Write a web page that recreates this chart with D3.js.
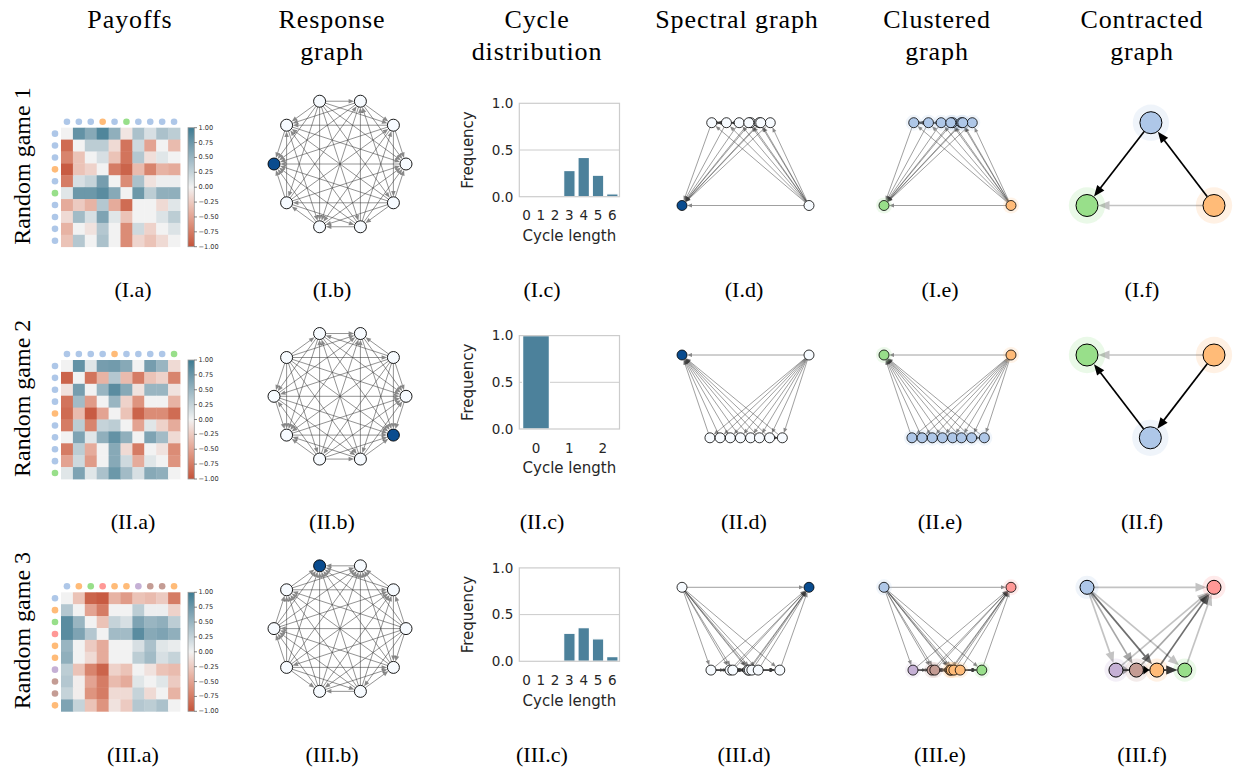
<!DOCTYPE html>
<html><head><meta charset="utf-8">
<script src="https://cdn.jsdelivr.net/npm/d3@7"></script>
<style>body{margin:0;background:#fff}svg{display:block}</style>
</head><body>
<script>
// ---------------- DATA ----------------
const colTitles = [["Payoffs"], ["Response", "graph"], ["Cycle", "distribution"], ["Spectral graph"], ["Clustered", "graph"], ["Contracted", "graph"]];
const rowLabels = ["Random game 1", "Random game 2", "Random game 3"];
const romanNums = ["I", "II", "III"];
const panelLetters = ["a", "b", "c", "d", "e", "f"];

const payoffs1 = [
  [0, 0.8, 0.6, 0.9, 0.55, -0.08, 0.4, 0.15, 0.4, 0.3],
  [-0.85, 0, 0.3, 0.3, -0.15, -0.8, 0.2, -0.5, 0, -0.35],
  [-0.7, -0.3, 0, 0.15, -0.3, -0.8, 0.35, -0.12, 0.1, 0],
  [-0.95, -0.3, -0.2, 0, -0.75, -0.9, -0.35, -0.7, -0.4, -0.45],
  [-0.75, 0.15, 0.25, 0.7, 0, -0.65, 0.4, -0.1, 0.03, 0.03],
  [0.1, 0.75, 0.75, 0.85, 0.6, 0, 0.75, 0.3, 0.55, 0.55],
  [-0.45, -0.25, -0.4, 0.35, -0.45, -0.85, 0, 0, -0.15, 0.1],
  [-0.15, 0.45, 0.15, 0.65, 0.1, -0.3, 0, 0, 0.12, 0.3],
  [-0.4, 0, -0.1, 0.35, 0, -0.65, 0.2, -0.2, 0, 0.12],
  [-0.3, 0.35, 0, 0.4, 0, -0.65, -0.18, -0.3, -0.15, 0]
];
const payoffs2 = [
  [0, 0.8, 0.1, 0.7, 0.72, 0.6, 0, 0.7, 0.5, -0.15],
  [-0.9, 0, -0.8, -0.4, 0.35, -0.35, -0.75, -0.3, -0.2, -0.7],
  [-0.1, 0.7, 0, 0.5, 0.85, 0.6, -0.1, 0.5, 0.5, -0.1],
  [-0.8, 0.45, -0.55, 0, 0.5, -0.2, -0.6, 0, 0, -0.4],
  [-0.85, -0.35, -0.95, -0.5, 0, -0.3, -0.9, -0.65, -0.65, -0.85],
  [-0.75, 0.3, -0.7, 0.25, 0.3, 0, -0.5, 0.1, -0.2, -0.45],
  [0, 0.65, 0.1, 0.55, 0.8, 0.55, 0, 0.65, 0.45, -0.15],
  [-0.75, 0.3, -0.45, 0, 0.6, -0.15, -0.75, 0, -0.1, -0.65],
  [-0.5, 0.2, -0.55, 0, 0.6, 0.2, -0.45, 0.1, 0, -0.6],
  [0.1, 0.65, 0.1, 0.4, 0.75, 0.45, 0.15, 0.6, 0.55, 0]
];
const payoffs3 = [
  [0, -0.3, -0.9, -0.95, -0.4, -0.55, -0.3, -0.35, -0.25, -0.75],
  [0.35, 0, -0.5, -0.75, 0, 0, 0.3, 0.03, 0.03, -0.2],
  [0.85, 0.5, 0, -0.3, 0.25, 0.15, 0.65, 0.5, 0.55, 0.3],
  [0.85, 0.65, 0.35, 0, 0.45, 0.45, 0.85, 0.6, 0.65, 0.55],
  [0.5, 0, -0.25, -0.45, 0, 0, 0.15, 0.4, 0.1, 0.05],
  [0.55, 0, -0.15, -0.45, 0, 0, 0.3, 0.45, 0.15, 0.25],
  [0.3, -0.3, -0.7, -0.9, -0.2, -0.3, 0, -0.1, -0.3, -0.35],
  [0.35, -0.03, -0.5, -0.75, -0.35, -0.45, 0.1, 0, 0.1, -0.25],
  [0.25, -0.03, -0.6, -0.75, -0.15, -0.15, 0.25, -0.15, 0, -0.4],
  [0.65, 0.25, -0.3, -0.6, -0.1, -0.25, 0.35, 0.3, 0.4, 0]
];

const clusters1 = ["blue", "blue", "blue", "orange", "blue", "green", "blue", "blue", "blue", "blue"];
const clusters2 = ["blue", "blue", "blue", "blue", "orange", "blue", "blue", "blue", "blue", "green"];
const clusters3 = ["blue", "orange", "green", "red", "orange", "orange", "purple", "brown", "brown", "orange"];
const clusterColors = {blue: "#aec7e8", orange: "#ffbb78", green: "#98df8a", red: "#ff9896", purple: "#c5b0d5", brown: "#c49c94"};

const cycleLengths1 = [0, 1, 2, 3, 4, 5, 6];
const cycleFreq1 = [0, 0, 0, 0.28, 0.42, 0.23, 0.03];
const cycleLengths2 = [0, 1, 2];
const cycleFreq2 = [1, 0, 0];
const cycleLengths3 = [0, 1, 2, 3, 4, 5, 6];
const cycleFreq3 = [0, 0, 0, 0.30, 0.36, 0.24, 0.05];
const freqTicks = [0, 0.5, 1];
const colorbarTicks = [1, 0.75, 0.5, 0.25, 0, -0.25, -0.5, -0.75, -1];

// spectral embedding coordinates (normalised)
const spectralX1 = [0.695, 0.234, 0.45, 1.0, 0.35, 0.0, 0.54, 0.61, 0.526, 0.62];
const spectralY1 = [0, 0, 0, 1, 0, 1, 0, 0, 0, 0];
const spectralX2 = [0.46, 0.22, 0.54, 0.38, 1.0, 0.30, 0.61, 0.69, 0.79, 0.0];
const spectralY2 = [1, 1, 1, 1, 0, 1, 1, 1, 1, 0];
const spectralX3 = [0.0, 0.52, 0.77, 1.0, 0.53, 0.55, 0.228, 0.378, 0.40, 0.60];
const spectralY3 = [0, 1, 1, 0, 1, 1, 1, 1, 1, 1];

// ---------------- SETUP ----------------
const games = [
  {M: payoffs1, cl: clusters1, cats: cycleLengths1, freq: cycleFreq1, sx: spectralX1, sy: spectralY1},
  {M: payoffs2, cl: clusters2, cats: cycleLengths2, freq: cycleFreq2, sx: spectralX2, sy: spectralY2},
  {M: payoffs3, cl: clusters3, cats: cycleLengths3, freq: cycleFreq3, sx: spectralX3, sy: spectralY3}
];
const W = 1233, H = 770;
const svg = d3.select("body").append("svg").attr("width", W).attr("height", H)
  .style("font-family", "DejaVu Sans");
const SERIF = "Liberation Serif";
const rowOff = [0, 232.3, 464.6];
const DARK = "#0a4c8f", LIGHT = "#f7fbff";

const heatColor = d3.scaleLinear().domain([-1, 0, 1])
  .range(["#c4533a", "#f2f2f2", "#3c7b92"]).interpolate(d3.interpolateLab);

function responseEdges(M) {
  const n = M.length, E = [];
  for (let i = 0; i < n; i++) for (let j = i + 1; j < n; j++) {
    if (M[j][i] > M[i][j]) E.push({s: i, t: j}); else E.push({s: j, t: i});
  }
  return E;
}

function arrow(g, x1, y1, x2, y2, o) {
  const dx = x2 - x1, dy = y2 - y1, L = Math.hypot(dx, dy);
  if (L <= o.s0 + o.s1 + 0.5) return;
  const ux = dx / L, uy = dy / L;
  const sx = x1 + ux * o.s0, sy = y1 + uy * o.s0;
  const tx = x2 - ux * o.s1, ty = y2 - uy * o.s1;
  const hl = Math.min(o.hl, L - o.s0 - o.s1);
  const bx = tx - ux * hl, by = ty - uy * hl;
  const a = g.append("g").attr("opacity", o.op);
  a.append("line").attr("x1", sx).attr("y1", sy).attr("x2", bx + ux * 0.5).attr("y2", by + uy * 0.5)
    .attr("stroke", o.color).attr("stroke-width", o.w);
  const hw = o.hw / 2;
  a.append("path").attr("d", `M${tx},${ty}L${bx - uy * hw},${by + ux * hw}L${bx + uy * hw},${by - ux * hw}Z`)
    .attr("fill", o.color);
}

// ---------------- TITLES ----------------
const titleX = [130, 332, 537, 737, 937, 1142];
colTitles.forEach((lines, c) => lines.forEach((t, k) => {
  svg.append("text").attr("x", titleX[c]).attr("y", 28 + k * 32).attr("text-anchor", "middle")
    .style("font-family", SERIF).style("font-size", "26px").style("letter-spacing", "0.9px").text(t);
}));
rowLabels.forEach((t, r) => {
  svg.append("text").attr("transform", `translate(30,${166 + rowOff[r]}) rotate(-90)`)
    .attr("text-anchor", "middle").style("font-family", SERIF).style("font-size", "24px").text(t);
});
const capX = [133, 332, 542, 744, 940, 1142];
romanNums.forEach((rn, r) => panelLetters.forEach((l, c) => {
  svg.append("text").attr("x", capX[c]).attr("y", 297 + rowOff[r]).attr("text-anchor", "middle")
    .style("font-family", SERIF).style("font-size", "22px").text(`(${rn}.${l})`);
}));

// gradient for colorbar
const defs = svg.append("defs");
const grad = defs.append("linearGradient").attr("id", "cbgrad").attr("x1", 0).attr("y1", 1).attr("x2", 0).attr("y2", 0);
d3.range(0, 1.0001, 0.05).forEach(t => grad.append("stop").attr("offset", t).attr("stop-color", heatColor(-1 + 2 * t)));

games.forEach((G, r) => {
  const oy = rowOff[r];
  const n = G.M.length;
  const E = responseEdges(G.M);
  const indeg = d3.range(n).map(i => E.filter(e => e.t === i).length);
  const dom = d3.maxIndex(indeg);

  // ---------- (a) heatmap ----------
  const ga = svg.append("g");
  const hx = d3.scaleBand().domain(d3.range(n)).range([61, 180]);
  const hy = d3.scaleBand().domain(d3.range(n)).range([127.7 + oy, 246.7 + oy]);
  G.M.forEach((row, i) => row.forEach((v, j) => {
    ga.append("rect").attr("x", hx(j)).attr("y", hy(i)).attr("width", hx.bandwidth() + 0.4)
      .attr("height", hy.bandwidth() + 0.4).attr("fill", heatColor(v));
  }));
  G.cl.forEach((c, i) => {
    ga.append("circle").attr("cx", hx(i) + hx.bandwidth() / 2).attr("cy", 121.7 + oy).attr("r", 3.3).attr("fill", clusterColors[c]);
    ga.append("circle").attr("cx", 55).attr("cy", hy(i) + hy.bandwidth() / 2).attr("r", 3.3).attr("fill", clusterColors[c]);
  });
  const cb = d3.scaleLinear().domain([-1, 1]).range([246.7 + oy, 127.7 + oy]);
  ga.append("rect").attr("x", 188).attr("y", cb(1)).attr("width", 6.3).attr("height", cb(-1) - cb(1))
    .attr("fill", "url(#cbgrad)").attr("stroke", "#999").attr("stroke-width", 0.8);
  colorbarTicks.forEach(t => {
    ga.append("line").attr("x1", 194.3).attr("x2", 197).attr("y1", cb(t)).attr("y2", cb(t)).attr("stroke", "#333").attr("stroke-width", 0.6);
    ga.append("text").attr("x", 198.5).attr("y", cb(t)).attr("dominant-baseline", "central")
      .style("font-size", "6.6px").attr("fill", "#333").text(d3.format(".2f")(t));
  });

  // ---------- (b) response graph ----------
  const gb = svg.append("g");
  const ang = d3.scaleLinear().domain([0, n]).range([0, 2 * Math.PI]);
  const cx = 340, cy = 164 + oy, R = 66;
  const px = i => cx + R * Math.cos(ang(i)), py = i => cy - R * Math.sin(ang(i));
  E.forEach(e => arrow(gb, px(e.s), py(e.s), px(e.t), py(e.t), {s0: 6, s1: 6.3, hl: 5.5, hw: 4.5, color: "#3a3a3a", op: 0.6, w: 0.9}));
  d3.range(n).forEach(i => gb.append("circle").attr("cx", px(i)).attr("cy", py(i)).attr("r", 6)
    .attr("fill", i === dom ? DARK : LIGHT).attr("stroke", "#000").attr("stroke-width", 0.9));

  // ---------- (c) cycle distribution ----------
  const gc = svg.append("g");
  const bx = d3.scaleBand().domain(G.cats).range([519.3, 619.5]).paddingInner(0.2).paddingOuter(0.1);
  const by = d3.scaleLinear().domain([0, 1]).range([196.7 + oy, 103.3 + oy]);
  gc.append("line").attr("x1", 519.3).attr("x2", 619.5).attr("y1", by(0.5)).attr("y2", by(0.5)).attr("stroke", "#cccccc").attr("stroke-width", 1);
  G.cats.forEach((c, k) => {
    gc.append("rect").attr("x", bx(c)).attr("y", by(G.freq[k])).attr("width", bx.bandwidth())
      .attr("height", by(0) - by(G.freq[k])).attr("fill", "#4c819b").attr("stroke", "#fff").attr("stroke-width", 1.2);
  });
  gc.append("rect").attr("x", 519.3).attr("y", by(1)).attr("width", 100.2).attr("height", by(0) - by(1))
    .attr("fill", "none").attr("stroke", "#cccccc").attr("stroke-width", 1.2);
  const yAx = gc.append("g").attr("transform", "translate(519.3,0)")
    .call(d3.axisLeft(by).tickValues(freqTicks).tickFormat(d3.format(".1f")).tickSize(0).tickPadding(6));
  const xAx = gc.append("g").attr("transform", `translate(0,${by(0)})`)
    .call(d3.axisBottom(bx).tickSize(0).tickPadding(14));
  [yAx, xAx].forEach(a => {
    a.select(".domain").remove();
    a.selectAll("text").style("font-family", "DejaVu Sans").style("font-size", "13.5px").attr("fill", "#262626");
  });
  gc.append("text").attr("x", 569.4).attr("y", 241 + oy).attr("text-anchor", "middle")
    .style("font-size", "15px").attr("fill", "#262626").text("Cycle length");
  gc.append("text").attr("transform", `translate(473,${150 + oy}) rotate(-90)`).attr("text-anchor", "middle")
    .style("font-size", "15px").attr("fill", "#262626").text("Frequency");

  // ---------- (d) spectral & (e) clustered ----------
  const sy = d3.scaleLinear().domain([0, 1]).range([122.7 + oy, 205.5 + oy]);
  const drawGraph = (x0, fillFn, halo) => {
    const g = svg.append("g");
    const sx = d3.scaleLinear().domain([0, 1]).range([x0, x0 + 127]);
    E.forEach(e => arrow(g, sx(G.sx[e.s]), sy(G.sy[e.s]), sx(G.sx[e.t]), sy(G.sy[e.t]),
      {s0: 5, s1: 5, hl: 5, hw: 4, color: "#3a3a3a", op: 0.6, w: 0.8}));
    if (halo) d3.range(n).forEach(i => g.append("circle").attr("cx", sx(G.sx[i])).attr("cy", sy(G.sy[i]))
      .attr("r", 8).attr("fill", fillFn(i)).attr("opacity", 0.18));
    d3.range(n).forEach(i => g.append("circle").attr("cx", sx(G.sx[i])).attr("cy", sy(G.sy[i])).attr("r", 5)
      .attr("fill", fillFn(i)).attr("stroke", "#000").attr("stroke-width", 0.8));
  };
  drawGraph(682, i => i === dom ? DARK : LIGHT, false);
  drawGraph(884, i => clusterColors[G.cl[i]], true);

  // ---------- (f) contracted ----------
  const gf = svg.append("g");
  const cls = Array.from(new Set(G.cl));
  const fx = d3.scaleLinear().domain([0, 1]).range([1087, 1214]);
  const cpos = cls.map(c => {
    const mem = d3.range(n).filter(i => G.cl[i] === c);
    return {c, x: fx(d3.mean(mem, i => G.sx[i])), y: sy(d3.mean(mem, i => G.sy[i]))};
  });
  const w = new Map();
  E.forEach(e => {
    const a = G.cl[e.s], b = G.cl[e.t];
    if (a !== b) w.set(a + ">" + b, (w.get(a + ">" + b) || 0) + 1);
  });
  const maxW = d3.max(Array.from(w.values()));
  const rn = 3 + 24 / cls.length;
  cpos.forEach(p => gf.append("circle").attr("cx", p.x).attr("cy", p.y).attr("r", rn * 1.65)
    .attr("fill", clusterColors[p.c]).attr("opacity", 0.2));
  Array.from(w.entries()).sort((a, b) => a[1] - b[1]).forEach(([k, v]) => {
    const [a, b] = k.split(">");
    const A = cpos.find(p => p.c === a), B = cpos.find(p => p.c === b);
    arrow(gf, A.x, A.y, B.x, B.y, {s0: rn, s1: rn + 0.5, hl: 11, hw: 9, color: "#000", op: 0.12 + 0.88 * v / maxW, w: 1.7});
  });
  cpos.forEach(p => gf.append("circle").attr("cx", p.x).attr("cy", p.y).attr("r", rn)
    .attr("fill", clusterColors[p.c]).attr("stroke", "#000").attr("stroke-width", 1));
});
</script>
</body></html>
